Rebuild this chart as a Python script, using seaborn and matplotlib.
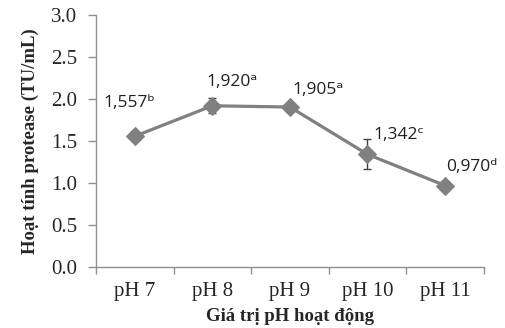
import matplotlib
matplotlib.use("Agg")
import matplotlib.pyplot as plt
import pandas as pd
import seaborn as sns

# du lieu doc tu hinh
ph_labels = ["pH 7", "pH 8", "pH 9", "pH 10", "pH 11"]
activity = [1.557, 1.920, 1.905, 1.342, 0.970]
err = [0.02, 0.09, 0.05, 0.18, 0.02]
point_labels = ["1,557ᵇ", "1,920ᵃ", "1,905ᵃ", "1,342ᶜ", "0,970ᵈ"]

sns.set_style("white")
plt.rcParams["font.family"] = ["Liberation Serif", "DejaVu Serif"]

df = pd.DataFrame({"pos": range(len(ph_labels)), "ph": ph_labels, "val": activity})

fig = plt.figure(figsize=(5.05, 3.28), dpi=100)
ax = fig.add_axes([0.19, 0.186, 0.768, 0.768])

line_color = "#808080"
ax.errorbar(df["pos"], df["val"], yerr=err, fmt="none", ecolor="#404040",
            elinewidth=1, capsize=3, capthick=1, zorder=2)
sns.lineplot(data=df, x="pos", y="val", color=line_color, linewidth=2.3,
             marker="D", markersize=9, markeredgecolor=line_color, ax=ax, zorder=3)

# nhan gia tri (offset tinh bang point)
offsets = [(-4, 24), (14, 17), (20, 12), (23, 14), (19, 13)]
for x, y, lab, (dx, dy) in zip(df["pos"], df["val"], point_labels, offsets):
    ax.annotate(lab, (x, y), xytext=(dx, dy), textcoords="offset points",
                ha="center", va="center", fontsize=12.5, color="#202020",
                family=["Open Sans", "DejaVu Sans"])

ax.set_xlim(-0.5, len(ph_labels) - 0.5)
ax.set_ylim(0, 3.0)
ax.set_yticks([0, 0.5, 1.0, 1.5, 2.0, 2.5, 3.0])
ax.set_yticklabels([f"{v:.1f}" for v in [0, 0.5, 1.0, 1.5, 2.0, 2.5, 3.0]])
ax.set_xticks(range(len(ph_labels)))
ax.set_xticklabels(ph_labels)
ax.set_xticks([i - 0.5 for i in range(len(ph_labels) + 1)], minor=True)
ax.tick_params(axis="x", which="major", bottom=True, length=0, labelsize=15, pad=11)
ax.tick_params(axis="x", which="minor", bottom=True, length=5, width=1,
               color="#909090", direction="out")
ax.tick_params(axis="y", left=True, length=5.5, width=1, color="#909090",
               direction="out", labelsize=15, pad=8)

for s in ["top", "right"]:
    ax.spines[s].set_visible(False)
for s in ["left", "bottom"]:
    ax.spines[s].set_color("#909090")
    ax.spines[s].set_linewidth(1)

ax.set_xlabel("Giá trị pH hoạt động", fontsize=13.5, fontweight="bold", labelpad=5)
ax.set_ylabel("Hoạt tính protease (TU/mL)", fontsize=13.5, fontweight="bold", labelpad=9)

fig.savefig("out.png", dpi=100)
